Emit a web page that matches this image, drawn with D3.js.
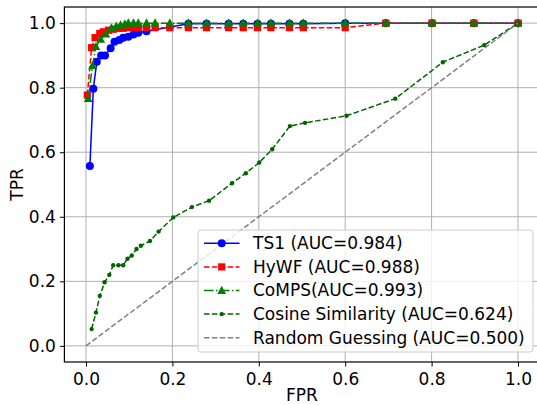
<!DOCTYPE html>
<html>
<head>
<meta charset="utf-8">
<script src="https://cdn.jsdelivr.net/npm/d3@7"></script>
<style>
  html, body { margin: 0; padding: 0; background: #fff; }
  svg { display: block; font-family: "DejaVu Sans", sans-serif; }
</style>
</head>
<body>
<svg id="chart" width="537" height="405"></svg>
<script>
// Données
const ts1Fpr = [0.009, 0.017, 0.025, 0.035, 0.044, 0.057, 0.066, 0.077, 0.086, 0.098, 0.11, 0.121, 0.14,
  0.237, 0.279, 0.33, 0.364, 0.397, 0.428, 0.471, 0.503, 0.6, 0.694, 0.801, 0.898, 1.0];
const ts1Tpr = [0.557, 0.797, 0.88, 0.90, 0.90, 0.922, 0.942, 0.948, 0.955, 0.958, 0.965, 0.97, 0.975,
  0.998, 0.998, 0.998, 0.998, 0.998, 0.998, 0.998, 0.998, 1.0, 1.0, 1.0, 1.0, 1.0];

const hywfFpr = [0.003, 0.013, 0.021, 0.032, 0.04, 0.052, 0.063, 0.075, 0.086, 0.098, 0.11, 0.121, 0.14,
  0.16, 0.194, 0.237, 0.279, 0.33, 0.364, 0.397, 0.428, 0.471, 0.503, 0.6, 0.694, 0.801, 0.898, 1.0];
const hywfTpr = [0.777, 0.924, 0.955, 0.968, 0.973, 0.978, 0.981, 0.984, 0.984, 0.986, 0.986, 0.986, 0.986,
  0.986, 0.986, 0.986, 0.986, 0.986, 0.986, 0.986, 0.986, 0.986, 0.986, 0.986, 1.0, 1.0, 1.0, 1.0];

const compsFpr = [0.005, 0.015, 0.023, 0.034, 0.046, 0.059, 0.07, 0.08, 0.09, 0.098, 0.11, 0.121, 0.14,
  0.16, 0.194, 0.237, 0.279, 0.33, 0.364, 0.397, 0.428, 0.471, 0.503, 0.6, 0.694, 0.801, 0.898, 1.0];
const compsTpr = [0.766, 0.868, 0.927, 0.95, 0.966, 0.985, 0.99, 0.994, 0.997, 1.0, 1.0, 1.0, 1.0,
  1.0, 1.0, 1.0, 1.0, 1.0, 1.0, 1.0, 1.0, 1.0, 1.0, 1.0, 1.0, 1.0, 1.0, 1.0];

const cosFpr = [0.013, 0.023, 0.032, 0.043, 0.054, 0.063, 0.075, 0.086, 0.096, 0.106, 0.117, 0.127, 0.148,
  0.168, 0.202, 0.245, 0.285, 0.338, 0.37, 0.401, 0.431, 0.472, 0.507, 0.603, 0.716, 0.826, 0.922, 1.0];
const cosTpr = [0.052, 0.103, 0.155, 0.197, 0.22, 0.25, 0.25, 0.25, 0.27, 0.28, 0.30, 0.31, 0.325,
  0.354, 0.398, 0.43, 0.45, 0.504, 0.535, 0.568, 0.609, 0.681, 0.691, 0.713, 0.766, 0.879, 0.932, 1.0];

const randFpr = [0, 1];
const randTpr = [0, 1];

const ticks = [0.0, 0.2, 0.4, 0.6, 0.8, 1.0];
const labels = ["TS1 (AUC=0.984)", "HyWF (AUC=0.988)", "CoMPS(AUC=0.993)",
  "Cosine Similarity (AUC=0.624)", "Random Guessing (AUC=0.500)"];

const svg = d3.select("#chart");
const margin = { left: 64.4, right: 539.6, top: 7, bottom: 362 };
const fs = 17;

const x = d3.scaleLinear().domain([-0.05, 1.05]).range([margin.left, margin.right]);
const y = d3.scaleLinear().domain([-0.05, 1.05]).range([margin.bottom, margin.top]);

// grille
const grid = svg.append("g");
grid.selectAll(".gx").data(ticks).enter().append("line")
  .attr("x1", d => x(d)).attr("x2", d => x(d))
  .attr("y1", margin.top).attr("y2", margin.bottom)
  .attr("stroke", "#b0b0b0").attr("stroke-width", 1);
grid.selectAll(".gy").data(ticks).enter().append("line")
  .attr("y1", d => y(d)).attr("y2", d => y(d))
  .attr("x1", margin.left).attr("x2", margin.right)
  .attr("stroke", "#b0b0b0").attr("stroke-width", 1);

const series = [
  { fpr: ts1Fpr, tpr: ts1Tpr, color: "#0000ff", dash: null, marker: "circle", lw: 1.5 },
  { fpr: hywfFpr, tpr: hywfTpr, color: "#ff0000", dash: "5.5,2.4", marker: "square", lw: 1.5 },
  { fpr: compsFpr, tpr: compsTpr, color: "#008000", dash: "9.6,2.4,1.5,2.4", marker: "triangle", lw: 1.5 },
  { fpr: cosFpr, tpr: cosTpr, color: "#006400", dash: "5.5,2.4", marker: "dot", lw: 1.5 },
  { fpr: randFpr, tpr: randTpr, color: "#808080", dash: "5.5,2.4", marker: null, lw: 1.5 }
];

const line = d3.line().x(d => x(d[0])).y(d => y(d[1]));

function drawMarker(g, type, color, cx, cy) {
  if (type === "circle") {
    g.append("circle").attr("cx", cx).attr("cy", cy).attr("r", 4).attr("fill", color);
  } else if (type === "square") {
    g.append("rect").attr("x", cx - 3.6).attr("y", cy - 3.6).attr("width", 7.2).attr("height", 7.2).attr("fill", color);
  } else if (type === "triangle") {
    g.append("path").attr("d", `M${cx},${cy - 4.8}L${cx + 4.4},${cy + 3.4}L${cx - 4.4},${cy + 3.4}Z`).attr("fill", color);
  } else if (type === "dot") {
    g.append("circle").attr("cx", cx).attr("cy", cy).attr("r", 2.2).attr("fill", color);
  }
}

const plot = svg.append("g");
series.forEach(s => {
  const pts = s.fpr.map((f, i) => [f, s.tpr[i]]);
  plot.append("path").datum(pts)
    .attr("d", line)
    .attr("fill", "none")
    .attr("stroke", s.color)
    .attr("stroke-width", s.lw)
    .attr("stroke-dasharray", s.dash);
  if (s.marker) {
    const mg = plot.append("g");
    pts.forEach(p => drawMarker(mg, s.marker, s.color, x(p[0]), y(p[1])));
  }
});

// axes
const xAxis = svg.append("g")
  .attr("transform", `translate(0,${margin.bottom})`)
  .call(d3.axisBottom(x).tickValues(ticks).tickFormat(d3.format(".1f")).tickSizeOuter(0).tickSize(4.5).tickPadding(6));
const yAxis = svg.append("g")
  .attr("transform", `translate(${margin.left},0)`)
  .call(d3.axisLeft(y).tickValues(ticks).tickFormat(d3.format(".1f")).tickSizeOuter(0).tickSize(4.5).tickPadding(4));
[xAxis, yAxis].forEach(a => {
  a.selectAll("text").attr("font-size", fs).attr("fill", "#000").attr("font-family", "DejaVu Sans");
  a.select(".domain").remove();
  a.selectAll("line").attr("stroke", "#000").attr("stroke-width", 1);
});

// cadre
svg.append("rect")
  .attr("x", margin.left).attr("y", margin.top)
  .attr("width", margin.right - margin.left).attr("height", margin.bottom - margin.top)
  .attr("fill", "none").attr("stroke", "#000").attr("stroke-width", 1.2);

svg.append("text").attr("x", x(0.5)).attr("y", 401)
  .attr("text-anchor", "middle").attr("font-size", fs).text("FPR");
svg.append("text").attr("transform", `translate(23,${y(0.5)}) rotate(-90)`)
  .attr("text-anchor", "middle").attr("font-size", fs).text("TPR");

// légende
const lg = svg.append("g");
lg.append("rect").attr("x", 198).attr("y", 230).attr("width", 335).attr("height", 122)
  .attr("rx", 3).attr("fill", "#fff").attr("fill-opacity", 0.8)
  .attr("stroke", "#cccccc").attr("stroke-width", 1);
series.forEach((s, i) => {
  const ly = 243.3 + i * 23.6;
  lg.append("line").attr("x1", 204).attr("x2", 239.5).attr("y1", ly).attr("y2", ly)
    .attr("stroke", s.color).attr("stroke-width", s.lw).attr("stroke-dasharray", s.dash);
  if (s.marker) drawMarker(lg, s.marker, s.color, 221.7, ly);
  lg.append("text").attr("x", 253).attr("y", ly).attr("dy", "0.35em")
    .attr("font-size", fs).text(labels[i]);
});
</script>
</body>
</html>
